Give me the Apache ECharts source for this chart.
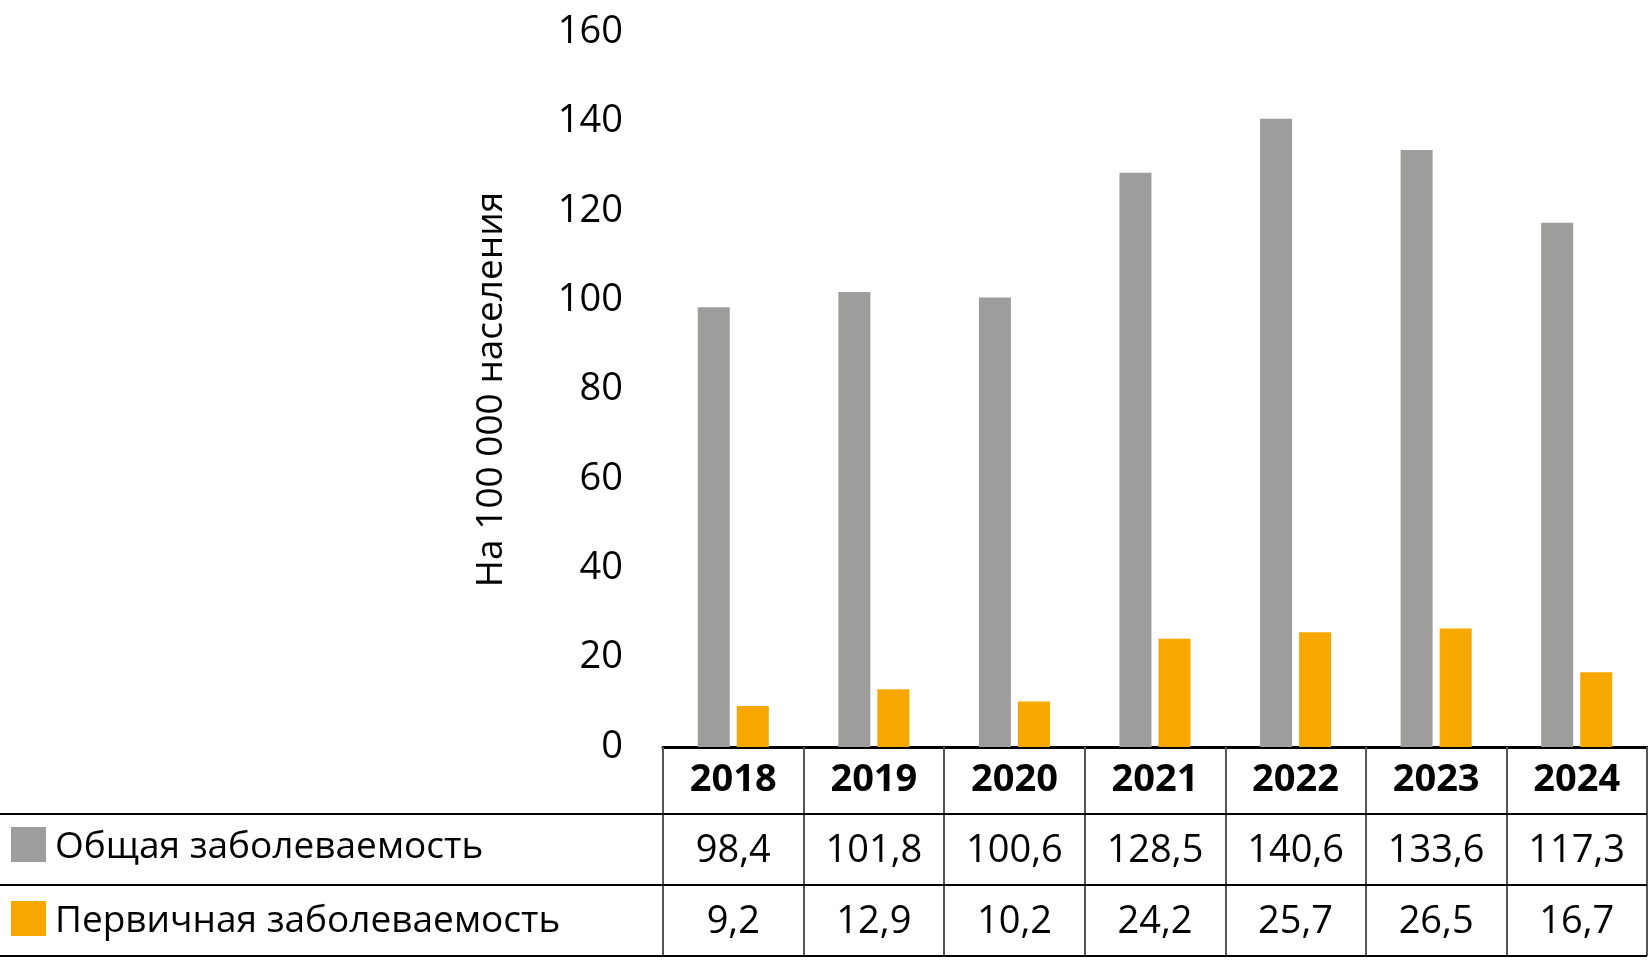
<!DOCTYPE html>
<html>
<head>
<meta charset="utf-8">
<script src="https://cdn.jsdelivr.net/npm/echarts@6/dist/echarts.min.js"></script>
<style>
  html, body { margin: 0; padding: 0; background: #fff; }
  #chart { width: 1648px; height: 971px; }
</style>
</head>
<body>
<div id="chart"></div>
<script>
// данные
var years = ['2018', '2019', '2020', '2021', '2022', '2023', '2024'];
var totalRate = [98.4, 101.8, 100.6, 128.5, 140.6, 133.6, 117.3];
var primaryRate = [9.2, 12.9, 10.2, 24.2, 25.7, 26.5, 16.7];
var seriesNames = ['Общая заболеваемость', 'Первичная заболеваемость'];
var yTitle = 'На 100 000 населения';

var FONT = '"Open Sans", "Noto Sans", sans-serif';
var GRAY = '#9d9d9c';
var ORANGE = '#f6a800';

// геометрия таблицы под осью
var plotLeft = 663, plotRight = 1647, plotTop = 32, plotBottom = 747;
var rowLines = [814, 885, 956];

function fmt(v) {
  return v.toFixed(1).replace('.', ',');
}

var chart = echarts.init(document.getElementById('chart'));

var option = {
  backgroundColor: '#fff',
  animation: false,
  textStyle: { fontFamily: FONT },
  grid: {
    left: plotLeft,
    right: 1648 - plotRight,
    top: plotTop,
    bottom: 971 - plotBottom
  },
  legend: {
    orient: 'vertical',
    left: 11,
    top: 827,
    padding: 0,
    itemWidth: 35,
    itemHeight: 35,
    itemGap: 35,
    icon: 'rect',
    selectedMode: false,
    formatter: '{n|{name}}',
    textStyle: {
      fontFamily: FONT,
      fontSize: 37,
      color: '#000',
      rich: {
        n: { fontFamily: FONT, fontSize: 37, color: '#000', padding: [6, 0, 0, 4] }
      }
    },
    data: seriesNames
  },
  xAxis: {
    type: 'category',
    data: years,
    axisLine: { lineStyle: { color: '#000', width: 3 } },
    axisTick: {
      show: true,
      length: rowLines[2] - plotBottom,
      lineStyle: { color: '#555', width: 2 }
    },
    axisLabel: {
      interval: 0,
      margin: -2,
      color: '#000',
      formatter: function (value, index) {
        return '{y|' + value + '}\n{v|' + fmt(totalRate[index]) + '}\n{v|' + fmt(primaryRate[index]) + '}';
      },
      rich: {
        y: { fontFamily: FONT, fontSize: 38, fontWeight: 'bold', lineHeight: 71, color: '#000' },
        v: { fontFamily: FONT, fontSize: 38, lineHeight: 71, color: '#000' }
      }
    }
  },
  yAxis: {
    type: 'value',
    min: 0,
    max: 160,
    interval: 20,
    name: yTitle,
    nameLocation: 'middle',
    nameRotate: 90,
    nameGap: 153,
    nameTextStyle: { fontFamily: FONT, fontSize: 37, color: '#000' },
    axisLine: { show: false },
    axisTick: { show: false },
    splitLine: { show: false },
    axisLabel: { margin: 40, fontSize: 38, color: '#000', fontFamily: FONT }
  },
  series: [
    {
      name: seriesNames[0],
      type: 'bar',
      data: totalRate,
      barWidth: 32,
      barGap: '22%',
      itemStyle: { color: GRAY }
    },
    {
      name: seriesNames[1],
      type: 'bar',
      data: primaryRate,
      barWidth: 32,
      barGap: '22%',
      itemStyle: { color: ORANGE }
    }
  ],
  graphic: rowLines.map(function (y) {
    return {
      type: 'line',
      shape: { x1: 0, y1: y, x2: plotRight, y2: y },
      style: { stroke: '#000', lineWidth: 2 },
      z: 10
    };
  })
};

chart.setOption(option);
</script>
</body>
</html>
